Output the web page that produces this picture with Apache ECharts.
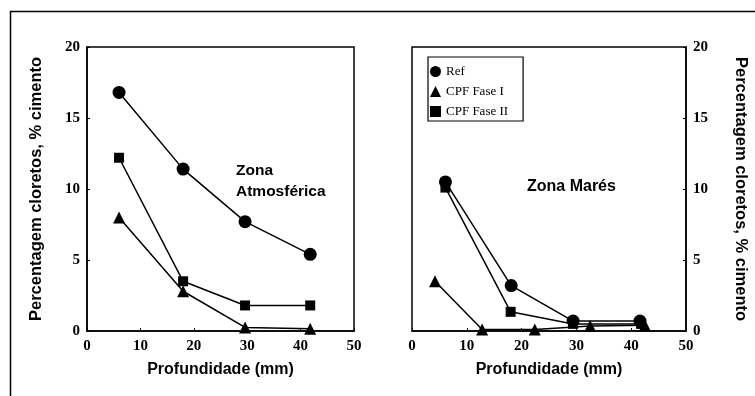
<!DOCTYPE html>
<html>
<head>
<meta charset="utf-8">
<script src="https://cdn.jsdelivr.net/npm/echarts@6/dist/echarts.min.js"></script>
<style>
  html, body { margin: 0; padding: 0; background: #fff; }
  #chart { width: 755px; height: 396px; }
</style>
</head>
<body>
<div id="chart"></div>
<script>
// Zona Atmosférica
const atmDepth = [6, 18, 29.6, 41.8];
const atmRef = [16.8, 11.4, 7.7, 5.4];
const atmFase1 = [8.0, 2.8, 0.25, 0.15];
const atmFase2 = [12.2, 3.5, 1.8, 1.8];

// Zona Marés
const marRefDepth = [6.1, 18.1, 29.4, 41.6];
const marRef = [10.5, 3.2, 0.7, 0.7];
const marFase1Depth = [4.2, 12.8, 22.4, 32.5, 42.5];
const marFase1 = [3.5, 0.1, 0.1, 0.35, 0.4];
const marFase2Depth = [6.1, 18, 29.4, 41.8];
const marFase2 = [10.1, 1.35, 0.5, 0.5];

const xTicks = [0, 10, 20, 30, 40, 50];
const yTicks = [0, 5, 10, 15, 20];

const names = ['Ref', 'CPF Fase I', 'CPF Fase II'];
const symbols = ['circle', 'triangle', 'rect'];
const symbolSizes = [13, 12, 10];

const chart = echarts.init(document.getElementById('chart'));

const tickFont = { fontFamily: 'Liberation Serif', fontWeight: 'bold', fontSize: 15, color: '#000' };
const nameFont = { fontFamily: 'Liberation Sans', fontWeight: 'bold', fontSize: 16, color: '#000' };

function pairs(xs, ys) {
  return xs.map((x, i) => [x, ys[i]]);
}

function xAxis(gridIndex) {
  return {
    gridIndex: gridIndex,
    type: 'value',
    min: xTicks[0],
    max: xTicks[xTicks.length - 1],
    interval: 10,
    name: 'Profundidade (mm)',
    nameLocation: 'middle',
    nameGap: 31,
    nameTextStyle: nameFont,
    axisLine: { onZero: false, lineStyle: { color: '#000', width: 1.5 } },
    axisTick: { inside: true, length: 3, lineStyle: { color: '#000' } },
    axisLabel: Object.assign({ margin: 8 }, tickFont),
    splitLine: { show: false }
  };
}

function yAxis(gridIndex, pos) {
  return {
    gridIndex: gridIndex,
    type: 'value',
    position: pos,
    min: yTicks[0],
    max: yTicks[yTicks.length - 1],
    interval: 5,
    name: 'Percentagem cloretos, % cimento',
    nameLocation: 'middle',
    nameGap: pos === 'left' ? 42 : 46,
    nameRotate: pos === 'left' ? 90 : -90,
    nameTextStyle: Object.assign({}, nameFont, { fontSize: 16.5 }),
    axisLine: { onZero: false, lineStyle: { color: '#000', width: 1.5 } },
    axisTick: { inside: true, length: 3, lineStyle: { color: '#000' } },
    axisLabel: Object.assign({ margin: 7 }, tickFont),
    splitLine: { show: false }
  };
}

function line(name, idx, gridIndex, data) {
  return {
    name: name,
    type: 'line',
    xAxisIndex: gridIndex,
    yAxisIndex: gridIndex,
    data: data,
    symbol: symbols[idx],
    symbolSize: symbolSizes[idx],
    showAllSymbol: true,
    lineStyle: { color: '#000', width: 1.5 },
    itemStyle: { color: '#000' },
    animation: false
  };
}

chart.setOption({
  backgroundColor: '#fff',
  animation: false,
  grid: [
    { left: 87, top: 47, width: 267, height: 284, show: true, borderColor: '#000', borderWidth: 1.5 },
    { left: 412, top: 47, width: 274, height: 284, show: true, borderColor: '#000', borderWidth: 1.5 }
  ],
  xAxis: [xAxis(0), xAxis(1)],
  yAxis: [yAxis(0, 'left'), yAxis(1, 'right')],
  legend: {
    left: 428,
    top: 57,
    orient: 'vertical',
    itemGap: 7,
    itemWidth: 11,
    itemHeight: 11,
    padding: [8, 15, 3, 2],
    borderColor: '#000',
    borderWidth: 1.2,
    selectedMode: false,
    textStyle: { fontFamily: 'Liberation Serif', fontSize: 13, color: '#000' },
    data: names.map((n, i) => ({ name: n, icon: symbols[i] }))
  },
  graphic: [
    { type: 'rect', left: 8, top: 9, shape: { width: 760, height: 400 }, style: { fill: null, stroke: '#000', lineWidth: 1.5 }, silent: true },
    { type: 'text', left: 236, top: 160, style: { text: 'Zona\nAtmosférica', font: 'bold 15.5px "Liberation Sans"', fill: '#000', lineHeight: 21 } },
    { type: 'text', left: 527, top: 179, style: { text: 'Zona Marés', font: 'bold 16px "Liberation Sans"', fill: '#000' } }
  ],
  series: [
    line(names[0], 0, 0, pairs(atmDepth, atmRef)),
    line(names[1], 1, 0, pairs(atmDepth, atmFase1)),
    line(names[2], 2, 0, pairs(atmDepth, atmFase2)),
    line(names[0], 0, 1, pairs(marRefDepth, marRef)),
    line(names[1], 1, 1, pairs(marFase1Depth, marFase1)),
    line(names[2], 2, 1, pairs(marFase2Depth, marFase2))
  ]
});
</script>
</body>
</html>
